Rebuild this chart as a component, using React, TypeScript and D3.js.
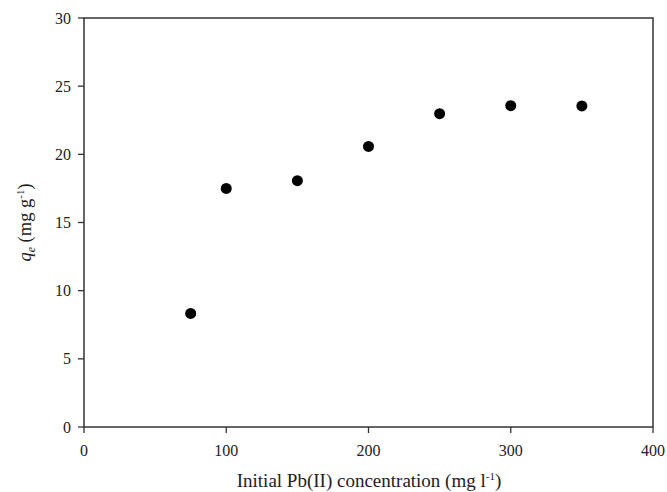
import React from "react";
import * as d3 from "d3";

const concentrations = [75, 100, 150, 200, 250, 300, 350];
const qeValues = [8.33, 17.5, 18.07, 20.58, 22.98, 23.57, 23.55];
const xTicks = [0, 100, 200, 300, 400];
const yTicks = [0, 5, 10, 15, 20, 25, 30];

const W = 667;
const H = 492;
const margin = { left: 84, right: 14, top: 18, bottom: 65 };
const FONT = "Liberation Serif";

export default function App() {
  const x = d3.scaleLinear().domain([0, 400]).range([margin.left, W - margin.right]);
  const y = d3.scaleLinear().domain([0, 30]).range([H - margin.bottom, margin.top]);
  const stroke = "#333";
  const ts = { fontFamily: FONT };
  return (
    <svg
      width={W}
      height={H}
      style={{ position: "absolute", left: 0, top: 0, background: "#fff", fontFamily: FONT }}
    >
      <rect
        x={x(0)}
        y={y(30)}
        width={x(400) - x(0)}
        height={y(0) - y(30)}
        fill="none"
        stroke={stroke}
        strokeWidth={1.5}
      />
      {xTicks.map((t) => (
        <g key={"x" + t}>
          <line x1={x(t)} x2={x(t)} y1={y(0)} y2={y(0) + 6} stroke={stroke} strokeWidth={1.3} />
          <text x={x(t)} y={456} textAnchor="middle" fontSize={16} fill="#222" style={ts}>
            {t}
          </text>
        </g>
      ))}
      {yTicks.map((t) => (
        <g key={"y" + t}>
          <line x1={x(0) - 6} x2={x(0)} y1={y(t)} y2={y(t)} stroke={stroke} strokeWidth={1.3} />
          <text x={71} y={y(t) + 5.5} textAnchor="end" fontSize={16} fill="#222" style={ts}>
            {t}
          </text>
        </g>
      ))}
      {concentrations.map((c, i) => (
        <circle key={c} cx={x(c)} cy={y(qeValues[i])} r={5.5} fill="#000" />
      ))}
      <text x={369} y={487} textAnchor="middle" fontSize={19} fill="#222" style={ts}>
        Initial Pb(II) concentration (mg l
        <tspan fontSize={11} dy={-7}>-1</tspan>
        <tspan dy={7}>)</tspan>
      </text>
      <text
        transform={`translate(31, ${(y(0) + y(30)) / 2}) rotate(-90)`}
        textAnchor="middle"
        fontSize={18.5}
        fill="#222"
        style={ts}
      >
        <tspan fontStyle="italic">q</tspan>
        <tspan fontStyle="italic" fontSize={12} dy={4}>e</tspan>
        <tspan dy={-4}> (mg g</tspan>
        <tspan fontSize={11} dy={-7}>-1</tspan>
        <tspan dy={7}>)</tspan>
      </text>
    </svg>
  );
}
